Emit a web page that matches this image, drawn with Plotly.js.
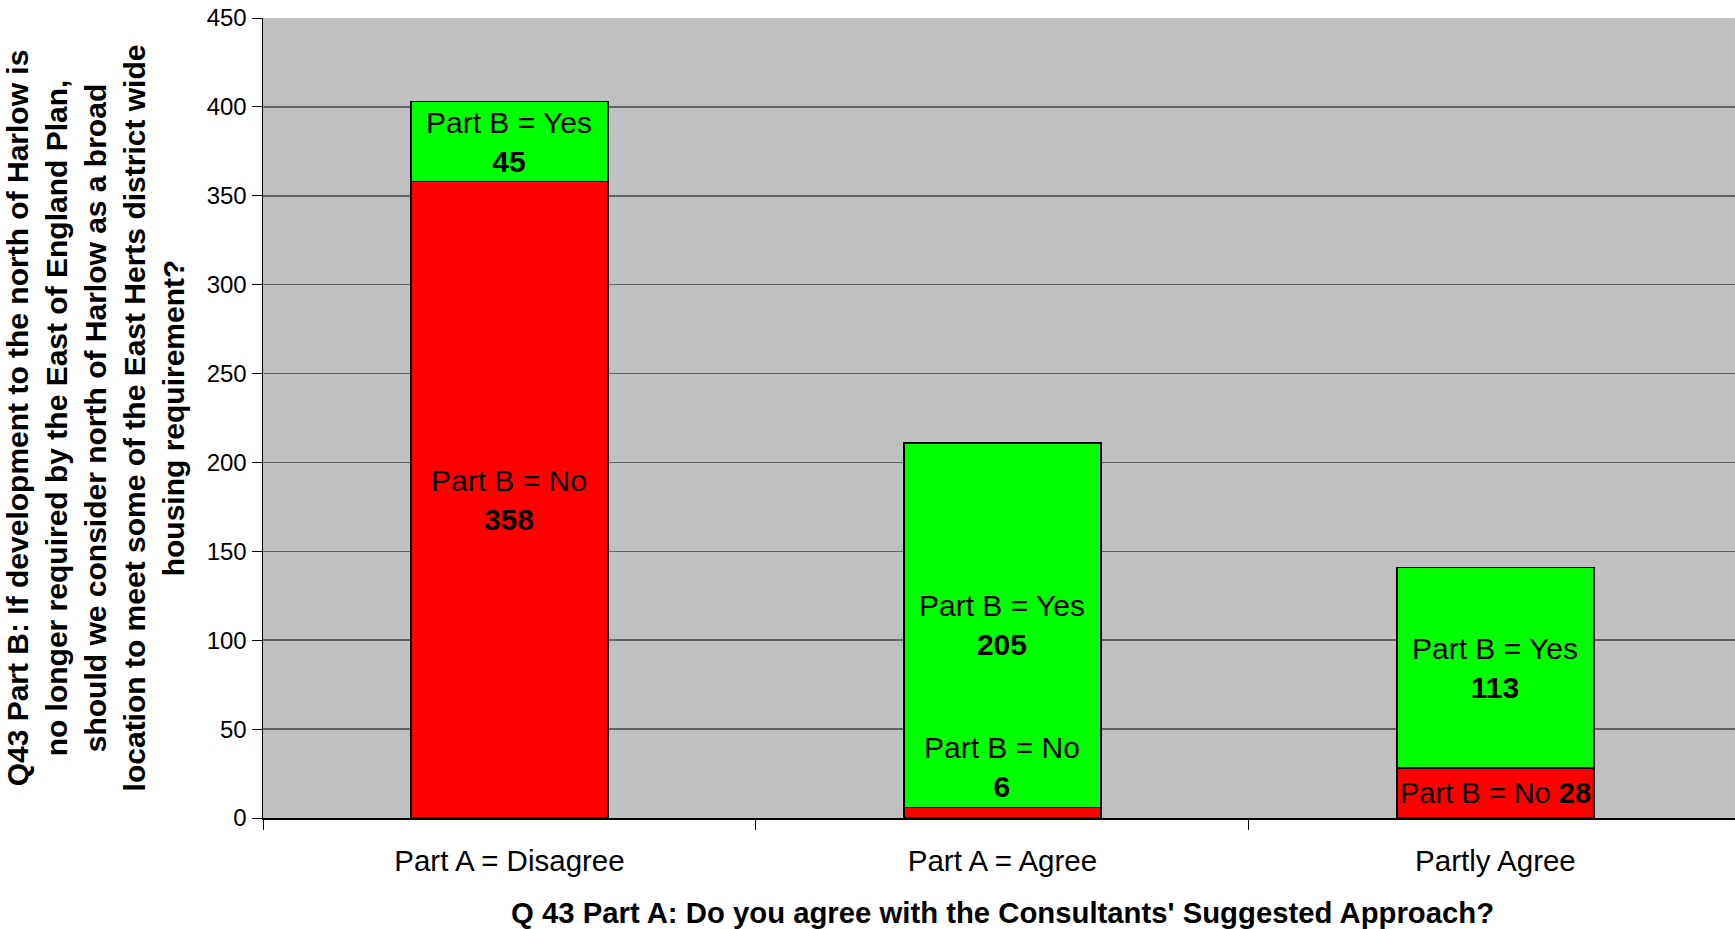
<!DOCTYPE html>
<html>
<head>
<meta charset="utf-8">
<script src="https://cdn.plot.ly/plotly-3.0.1.min.js"></script>
<style>
html,body{margin:0;padding:0;background:#fff;}
#chart{width:1735px;height:929px;}
</style>
</head>
<body>
<div id="chart"></div>
<script>
const categories = ["Part A = Disagree", "Part A = Agree", "Partly Agree"];
const partBNo = [358, 6, 28];
const partBYes = [45, 205, 113];
const noLabels = ["Part B = No<br><b>358</b>", "Part B = No<br><b>6</b>", "Part B = No <b>28</b>"];
const yesLabels = ["Part B = Yes<br><b>45</b>", "Part B = Yes<br><b>205</b>", "Part B = Yes<br><b>113</b>"];
const yTicks = [0, 50, 100, 150, 200, 250, 300, 350, 400, 450];

const font = "Arial, 'Liberation Sans', sans-serif";

const traces = [
  {type: "bar", x: categories, y: partBNo, name: "Part B = No",
   marker: {color: "#FF0000", line: {color: "#000000", width: 1.5}}, width: 0.4, hoverinfo: "none"},
  {type: "bar", x: categories, y: partBYes, name: "Part B = Yes",
   marker: {color: "#00FF00", line: {color: "#000000", width: 1.5}}, width: 0.4, hoverinfo: "none"}
];

const annotations = [];
categories.forEach((c, i) => {
  const no = partBNo[i], yes = partBYes[i];
  const small = no < 15;
  annotations.push({x: c, y: small ? no : no / 2, xref: "x", yref: "y", text: noLabels[i],
    showarrow: false, font: {family: font, size: small || no > 100 ? 30 : 29, color: "#000"},
    yanchor: small ? "bottom" : "middle", yshift: small ? 2 : 0});
  annotations.push({x: c, y: no + yes / 2, xref: "x", yref: "y", text: yesLabels[i],
    showarrow: false, font: {family: font, size: 30, color: "#000"}, yanchor: "middle"});
});
annotations.push({
  xref: "paper", yref: "paper", x: 0.5027, y: -0.1175, xanchor: "center", yanchor: "middle",
  text: "<b>Q 43 Part A: Do you agree with the Consultants' Suggested Approach?</b>",
  showarrow: false, font: {family: font, size: 29.3, color: "#000"}
});

const layout = {
  width: 1735, height: 929,
  margin: {l: 263, r: 0, t: 18, b: 111, pad: 0},
  paper_bgcolor: "#FFFFFF",
  plot_bgcolor: "#C0C0C0",
  barmode: "stack",
  showlegend: false,
  font: {family: font, color: "#000"},
  xaxis: {
    type: "category",
    range: [-0.5, 2.486],
    tickson: "boundaries",
    ticks: "outside", ticklen: 10, tickcolor: "#000", tickwidth: 1,
    ticklabelstandoff: 16,
    showline: true, linecolor: "#000", linewidth: 1.5,
    showgrid: false, zeroline: false,
    tickfont: {family: font, size: 29.5, color: "#000"}
  },
  yaxis: {
    range: [0, 450],
    tickvals: yTicks,
    ticks: "outside", ticklen: 10, tickcolor: "#000", tickwidth: 1,
    showline: true, linecolor: "#000", linewidth: 1.5,
    showgrid: true, gridcolor: "#606060", gridwidth: 1.5,
    zeroline: false,
    tickfont: {family: font, size: 24, color: "#000"},
    title: {text: "<b>Q43 Part B: If development to the north of Harlow is<br>no longer required by the East of England Plan,<br>should we consider north of Harlow as a broad<br>location to meet some of the East Herts district wide<br>housing requirement?</b>",
      font: {family: "'Liberation Sans Narrow', 'Arial Narrow', Arial, sans-serif", size: 30, color: "#000"}, standoff: 13}
  },
  annotations: annotations
};

Plotly.newPlot("chart", traces, layout, {displayModeBar: false, staticPlot: true});
</script>
</body>
</html>
